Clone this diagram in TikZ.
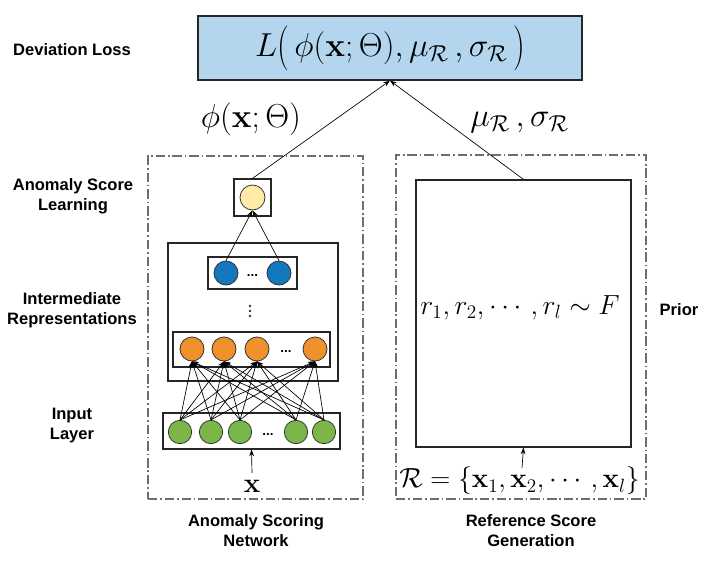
\documentclass[tikz,border=0pt]{standalone}
\usepackage{amsmath}
\usepackage{exscale}
\usepackage{graphicx}
\usepackage[no-math]{fontspec}
\newfontfamily\labfont{Liberation Sans}
\usetikzlibrary{arrows.meta,fit}
\definecolor{lossblue}{RGB}{179,214,238}
\definecolor{ingreen}{RGB}{122,182,72}
\definecolor{midorange}{RGB}{240,146,43}
\definecolor{hidblue}{RGB}{20,120,190}
\definecolor{outyellow}{RGB}{255,234,168}
\definecolor{framegray}{RGB}{110,110,110}
\newcommand{\tallparL}{\mathopen{\vcenter{\hbox{\scalebox{1}[1.35]{$($}}}}}
\newcommand{\tallparR}{\mathclose{\vcenter{\hbox{\scalebox{1}[1.35]{$)$}}}}}
\begin{document}
\begin{tikzpicture}[x=0.75pt,y=-0.75pt,
 lab/.style={font=\labfont\bfseries\fontsize{12.4}{15}\selectfont, align=center, inner sep=0pt},
 box/.style={draw=black!85, line width=0.9pt, inner sep=0pt},
 frame/.style={draw=framegray, line width=0.9pt, dash pattern=on 7pt off 2.2pt on 1.2pt off 2.2pt, inner sep=0pt},
 neuron/.style={circle, draw=black!80, line width=0.6pt, minimum size=18pt, inner sep=0pt},
 conn/.style={line width=0.5pt, -{Stealth[length=5pt,width=3.6pt]}},
 dotsl/.style={font=\labfont\bfseries\fontsize{10}{12}\selectfont, inner sep=0pt},
 vdot/.style={circle, fill=black!80, inner sep=0pt, minimum size=1.9pt},
 mathl/.style={inner sep=0pt},
]
\useasboundingbox (0,0) rectangle (725,571);
% frames
\node[frame, fit={(148,156)(363,499)}] (netframe) {};
\node[frame, fit={(396,155)(646,499)}] (refframe) {};
% loss box
\node[box, fill=lossblue, fit={(198,16)(582,80)}] (loss) {};
\node[mathl, font=\fontsize{24}{28}\selectfont] (losstxt) at (390,48) {$L\tallparL\,\phi(\mathbf{x};\Theta),\mu_{\mathcal{R}}\,,\sigma_{\mathcal{R}}\,\tallparR$};
% network boxes
\node[box, fit={(234,179)(271,216)}] (outbox) {};
\node[neuron, fill=outyellow, minimum size=18.75pt] (out) at (252.5,197.5) {};
\node[box, fit={(168,243)(338,381)}] (interbox) {};
\node[box, fit={(208,257)(297,289)}] (hbox) {};
\node[neuron, fill=hidblue] (h1) at (226,273) {};
\node[neuron, fill=hidblue] (h2) at (279,273) {};
\node[dotsl] (hdots) at (252.5,276) {...};
\node[vdot] (vd1) at (250,306) {};
\node[vdot] (vd2) at (250,311) {};
\node[vdot] (vd3) at (250,316) {};
\node[box, fit={(173,332)(330,367)}] (obox) {};
\node[neuron, fill=midorange] (o1) at (192,349) {};
\node[neuron, fill=midorange] (o2) at (224,349) {};
\node[neuron, fill=midorange] (o3) at (257,349) {};
\node[neuron, fill=midorange] (o4) at (315,349) {};
\node[dotsl] (odots) at (286,352) {...};
\node[box, fit={(163,413)(340,449)}] (ibox) {};
\node[neuron, fill=ingreen, minimum size=17.5pt] (i1) at (180,432) {};
\node[neuron, fill=ingreen, minimum size=17.5pt] (i2) at (211,432) {};
\node[neuron, fill=ingreen, minimum size=17.5pt] (i3) at (240,432) {};
\node[neuron, fill=ingreen, minimum size=17.5pt] (i4) at (296,432) {};
\node[neuron, fill=ingreen, minimum size=17.5pt] (i5) at (324,432) {};
\node[dotsl] (idots) at (268,435) {...};
\node[mathl, font=\fontsize{22}{26}\selectfont] (xin) at (252,486) {$\mathbf{x}$};
\coordinate (xtop) at (252,473);
% reference side
\node[box, fit={(416,180)(631,447)}] (refbox) {};
\node[mathl, font=\fontsize{20}{24}\selectfont] (rtxt) at (520,308) {$r_1,r_2,\cdots,r_l\sim F$};
\node[mathl, font=\fontsize{20}{24}\selectfont] (rset) at (519.5,481) {$\mathcal{R}=\{\mathbf{x}_1,\mathbf{x}_2,\cdots,\mathbf{x}_l\}$};
\coordinate (rtop) at (522,468);
% connectors
\foreach \i in {1,...,5}{\foreach \j in {1,...,4}{\draw[conn] (i\i.north) -- (o\j.south);}}
\draw[conn] (h1.north) -- (out.south);
\draw[conn] (h2.north) -- (out.south);
\draw[conn] (xtop) -- (ibox.south);
\draw[conn] (rtop) -- (refbox.south);
\draw[conn] (outbox.north) -- (loss.south);
\draw[conn] (refbox.north) -- (loss.south);
% edge labels
\node[mathl, font=\fontsize{25.5}{30}\selectfont] (philab) at (251,119) {$\phi(\mathbf{x};\Theta)$};
\node[mathl, font=\fontsize{25}{30}\selectfont] (muslab) at (519.5,123) {$\mu_{\mathcal{R}}\,,\sigma_{\mathcal{R}}$};
% side labels
\node[lab] (l1) at (72,50) {Deviation Loss};
\node[lab] (l2) at (73,196) {Anomaly Score\\Learning};
\node[lab] (l3) at (72,310) {Intermediate\\Representations};
\node[lab] (l4) at (72,426) {Input\\Layer};
\node[lab] (l5) at (679,310) {Prior};
\node[lab] (l6) at (256,531) {Anomaly Scoring\\Network};
\node[lab] (l7) at (531,531) {Reference Score\\Generation};
\end{tikzpicture}
\end{document}
